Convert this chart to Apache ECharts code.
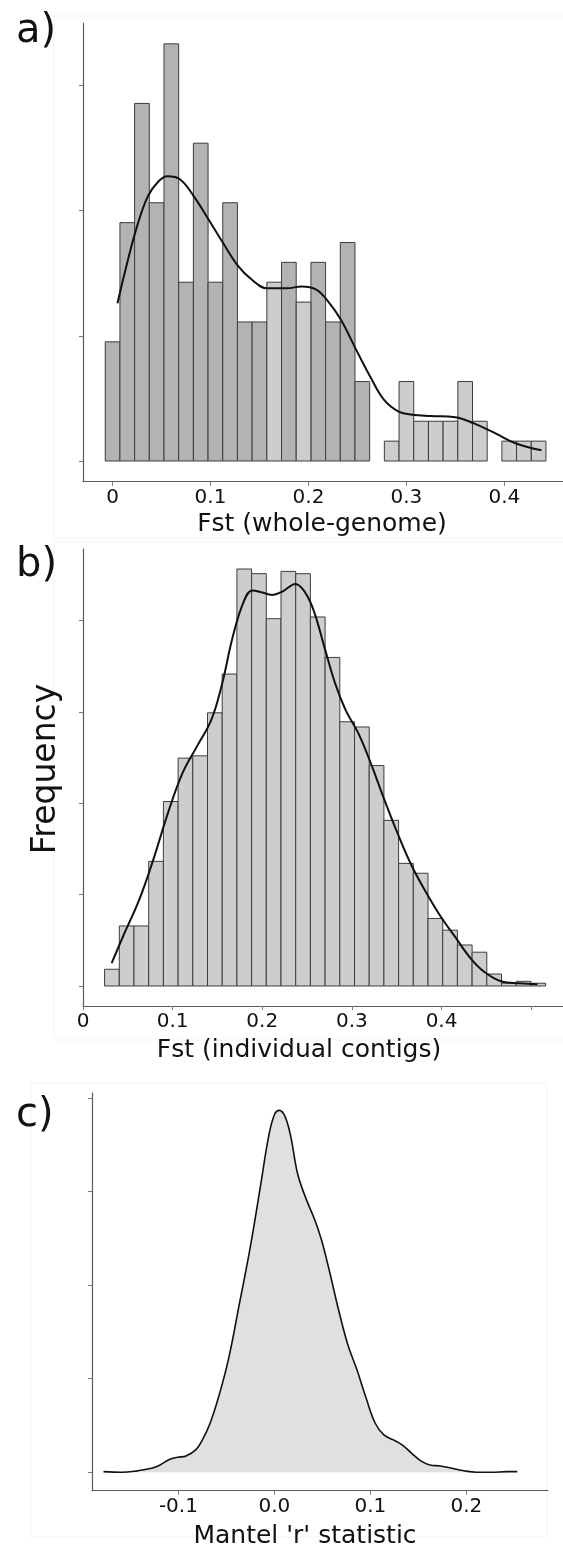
<!DOCTYPE html>
<html>
<head>
<meta charset="utf-8">
<script src="https://cdn.jsdelivr.net/npm/echarts@6.0.0/dist/echarts.min.js"></script>
<style>
	html, body { margin: 0; padding: 0; background: #fff; }
	#chart { width: 563px; height: 1548px; }
</style>
</head>
<body>
<div id="chart"></div>
<script>
// a) Fst whole-genome histogram, 30 bins of 0.015 starting at -0.0075
var aBinStart = -0.0075;
var aBinWidth = 0.015;
var aDarkCounts = [6, 12, 18, 13, 21, 9, 16, 9, 13, 7, 7, 0, 10, 0, 10, 7, 11, 4, 0, 0, 0, 0, 0, 0, 0, 0, 0, 0, 0, 0];
var aLightCounts = [0, 0, 0, 0, 0, 0, 0, 0, 0, 0, 0, 9, 0, 8, 0, 0, 0, 0, 0, 1, 4, 2, 2, 2, 4, 2, 0, 1, 1, 1];
var aCurveX = [0.005, 0.014, 0.025, 0.036, 0.047, 0.056, 0.069, 0.083, 0.098, 0.113, 0.127, 0.142, 0.158, 0.178, 0.193, 0.208, 0.220, 0.233, 0.248, 0.263, 0.277, 0.292, 0.306, 0.325, 0.350, 0.369, 0.391, 0.412, 0.438];
var aCurveY = [2.52, 3.11, 3.75, 4.23, 4.47, 4.55, 4.50, 4.23, 3.86, 3.48, 3.14, 2.90, 2.76, 2.76, 2.79, 2.74, 2.55, 2.26, 1.80, 1.35, 0.98, 0.79, 0.74, 0.72, 0.70, 0.60, 0.44, 0.28, 0.17];
var aTicks = [0, 0.1, 0.2, 0.3, 0.4];
var aYTicks = [0, 2, 4, 6];

// b) Fst individual contigs, density per bin
var bBinStart = 0.0241;
var bBinWidth = 0.0164;
var bDensity = [0.183, 0.657, 0.657, 1.364, 2.019, 2.494, 2.519, 2.990, 3.414, 4.564, 4.513, 4.020, 4.538, 4.513, 4.039, 3.596, 2.892, 2.835, 2.413, 1.813, 1.342, 1.234, 0.739, 0.611, 0.449, 0.370, 0.131, 0.030, 0.051, 0.030];
var bCurveX = [0.032, 0.045, 0.063, 0.079, 0.095, 0.111, 0.127, 0.143, 0.155, 0.167, 0.179, 0.189, 0.199, 0.211, 0.223, 0.237, 0.247, 0.257, 0.269, 0.281, 0.293, 0.307, 0.321, 0.335, 0.351, 0.367, 0.383, 0.399, 0.415, 0.431, 0.447, 0.467, 0.487, 0.507];
var bCurveY = [0.25, 0.55, 0.95, 1.40, 1.90, 2.33, 2.62, 2.91, 3.30, 3.82, 4.20, 4.33, 4.31, 4.28, 4.32, 4.40, 4.32, 4.12, 3.72, 3.32, 3.02, 2.77, 2.44, 2.07, 1.67, 1.31, 1.02, 0.76, 0.54, 0.32, 0.16, 0.05, 0.03, 0.018];
var bTicks = [0, 0.1, 0.2, 0.3, 0.4, 0.5];
var bLabels = [0, 0.1, 0.2, 0.3, 0.4];
var bYTicks = [0, 1, 2, 3, 4];

// c) Mantel r density
var cCurveX = [-0.178, -0.159, -0.143, -0.128, -0.119, -0.109, -0.101, -0.092, -0.082, -0.075, -0.067, -0.058, -0.048, -0.037, -0.025, -0.014, -0.006, 0.000, 0.005, 0.011, 0.017, 0.024, 0.032, 0.042, 0.049, 0.057, 0.066, 0.076, 0.086, 0.095, 0.105, 0.114, 0.124, 0.133, 0.143, 0.152, 0.162, 0.173, 0.185, 0.196, 0.211, 0.227, 0.242, 0.253];
var cCurveY = [0.014, 0.0, 0.03, 0.086, 0.157, 0.278, 0.32, 0.35, 0.478, 0.69, 1.048, 1.619, 2.403, 3.544, 4.827, 6.182, 7.18, 7.643, 7.736, 7.608, 7.18, 6.396, 5.897, 5.398, 4.97, 4.328, 3.544, 2.76, 2.189, 1.619, 1.048, 0.799, 0.692, 0.585, 0.406, 0.25, 0.157, 0.135, 0.086, 0.036, 0.0, 0.0, 0.014, 0.014];
var cTicks = [-0.1, 0.0, 0.1, 0.2];
var cYTicks = [0, 2, 4, 6, 8];

function pairs(xs, ys) {
	return xs.map(function (x, i) { return [x, ys[i]]; });
}

function histData(start, width, values) {
	var out = [];
	values.forEach(function (v, i) {
		if (v > 0) out.push([start + width * (i + 0.5), v]);
	});
	return out;
}

function histSeries(idx, width, data, fill) {
	return {
		type: 'custom',
		xAxisIndex: idx,
		yAxisIndex: idx,
		data: data,
		z: 2,
		renderItem: function (params, api) {
			var x = api.value(0);
			var p0 = api.coord([x - width / 2, api.value(1)]);
			var p1 = api.coord([x + width / 2, 0]);
			return {
				type: 'rect',
				shape: { x: p0[0], y: p0[1], width: p1[0] - p0[0], height: p1[1] - p0[1] },
				style: { fill: fill, stroke: '#3d3d3d', lineWidth: 1 }
			};
		}
	};
}

function xAxisFor(idx, min, max, ticks, labels) {
	return {
		type: 'value',
		gridIndex: idx,
		min: min,
		max: max,
		axisLine: { onZero: false, lineStyle: { color: '#5a5a5a', width: 1.2 } },
		axisTick: { show: true, length: 4, customValues: ticks, lineStyle: { color: '#777' } },
		axisLabel: {
			customValues: labels,
			margin: 6,
			fontSize: 20,
			fontFamily: 'DejaVu Sans',
			color: '#111',
			formatter: function (v) { return idx === 2 ? v.toFixed(1) : String(v); }
		},
		splitLine: { show: false }
	};
}

function yAxisFor(idx, min, max, ticks) {
	return {
		type: 'value',
		gridIndex: idx,
		min: min,
		max: max,
		axisLine: { show: true, onZero: false, lineStyle: { color: '#5a5a5a', width: 1.2 } },
		axisTick: { show: true, length: 4, customValues: ticks, lineStyle: { color: '#777' } },
		axisLabel: { show: false },
		splitLine: { show: false }
	};
}

function textEl(text, x, y, size, align, rotation) {
	return {
		type: 'text',
		x: x,
		y: y,
		rotation: rotation || 0,
		style: {
			text: text,
			font: size + 'px "DejaVu Sans"',
			fill: '#111',
			textAlign: align,
			textVerticalAlign: 'bottom'
		}
	};
}

function panelBox(x, y, w, h) {
	return {
		type: 'rect',
		shape: { x: x, y: y, width: w, height: h },
		style: { fill: 'none', stroke: '#f3f3f3', lineWidth: 1 },
		z: -1
	};
}

var myChart = echarts.init(document.getElementById('chart'));
var option = {
	animation: false,
	backgroundColor: '#fff',
	grid: [
		{ left: 83, top: 23, width: 480, height: 458.7 },
		{ left: 83, top: 549, width: 480, height: 457 },
		{ left: 92, top: 1093, width: 456, height: 397.7 }
	],
	xAxis: [
		xAxisFor(0, -0.0302, 0.4599, aTicks, aTicks),
		xAxisFor(1, 0, 0.5355, bTicks, bLabels),
		xAxisFor(2, -0.19, 0.285, cTicks, cTicks)
	],
	yAxis: [
		yAxisFor(0, -0.331, 7.0, aYTicks),
		yAxisFor(1, -0.219, 4.783, bYTicks),
		yAxisFor(2, -0.394, 8.107, cYTicks)
	],
	series: [
		histSeries(0, aBinWidth, histData(aBinStart, aBinWidth, aDarkCounts.map(function (c) {
			return c / (210 * aBinWidth);
		})), '#b3b3b3'),
		histSeries(0, aBinWidth, histData(aBinStart, aBinWidth, aLightCounts.map(function (c) {
			return c / (210 * aBinWidth);
		})), '#cdcdcd'),
		{
			type: 'line', xAxisIndex: 0, yAxisIndex: 0, z: 5,
			data: pairs(aCurveX, aCurveY), smooth: 0.4, symbol: 'none',
			lineStyle: { color: '#111', width: 2 }
		},
		histSeries(1, bBinWidth, histData(bBinStart, bBinWidth, bDensity), '#cdcdcd'),
		{
			type: 'line', xAxisIndex: 1, yAxisIndex: 1, z: 5,
			data: pairs(bCurveX, bCurveY), smooth: 0.4, symbol: 'none',
			lineStyle: { color: '#111', width: 2 }
		},
		{
			type: 'line', xAxisIndex: 2, yAxisIndex: 2, z: 5,
			data: pairs(cCurveX, cCurveY), smooth: 0.4, symbol: 'none',
			lineStyle: { color: '#111', width: 1.6 },
			areaStyle: { color: '#e0e0e0', opacity: 1 }
		}
	],
	graphic: [
		panelBox(54, 16, 520, 522),
		panelBox(54, 542, 520, 498),
		panelBox(31, 1083, 516, 454),
		textEl('a)', 16, 52, 40, 'left'),
		textEl('b)', 16, 586, 40, 'left'),
		textEl('c)', 16, 1136, 40, 'left'),
		textEl('Fst (whole-genome)', 322, 537, 25, 'center'),
		textEl('Fst (individual contigs)', 299, 1063, 25, 'center'),
		textEl("Mantel 'r' statistic", 305, 1549, 25, 'center'),
		{
			type: 'text',
			x: 63,
			y: 769,
			rotation: Math.PI / 2,
			style: {
				text: 'Frequency',
				font: '33px "DejaVu Sans"',
				fill: '#111',
				textAlign: 'center',
				textVerticalAlign: 'bottom'
			}
		}
	]
};
myChart.setOption(option);
</script>
</body>
</html>
